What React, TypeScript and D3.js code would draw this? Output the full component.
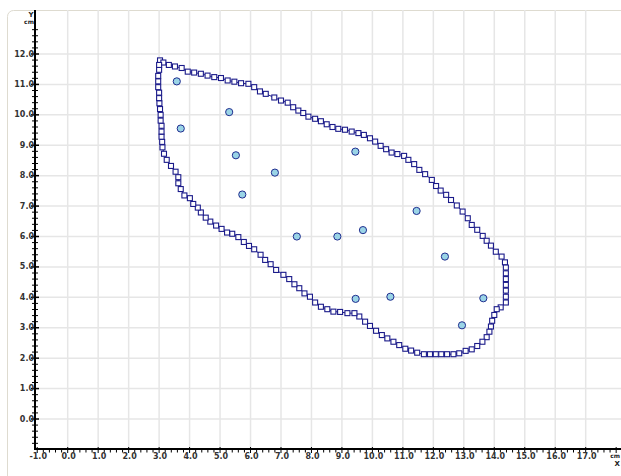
import { useEffect, useRef } from 'react';
import * as d3 from 'd3';

// Outline traced as square markers (cm), in drawing order
const outlineX = [
  3.03, 3.14, 3.32, 3.52, 3.74, 3.94, 4.15, 4.37, 4.59, 4.81, 5.03, 5.25, 5.47, 5.69, 5.93, 6.12, 6.31, 6.5, 6.78, 7.0,
  7.22, 7.4, 7.57, 7.73, 7.9, 8.12, 8.31, 8.5, 8.69, 8.88, 9.1, 9.32, 9.54, 9.72, 9.92, 10.09, 10.27, 10.45, 10.63, 10.82,
  11.04, 11.18, 11.37, 11.54, 11.73, 11.95, 12.09, 12.24, 12.42, 12.58, 12.77, 12.96, 13.13, 13.26, 13.44, 13.62, 13.75, 13.89, 14.05, 14.24,
  14.35, 14.38, 14.38, 14.38, 14.38, 14.38, 14.38, 14.38, 14.21, 14.08, 14.0, 13.93, 13.89, 13.84, 13.75, 13.61, 13.44, 13.26, 13.06, 12.85,
  12.66, 12.45, 12.26, 12.08, 11.89, 11.69, 11.47, 11.27, 11.08, 10.88, 10.69, 10.49, 10.31, 10.12, 9.92, 9.76, 9.57, 9.41, 9.18, 8.94,
  8.72, 8.52, 8.31, 8.12, 7.95, 7.77, 7.6, 7.44, 7.27, 7.08, 6.84, 6.66, 6.48, 6.33, 6.12, 5.95, 5.78, 5.6, 5.4, 5.23,
  5.05, 4.87, 4.68, 4.53, 4.37, 4.27, 4.12, 4.01, 3.83, 3.71, 3.63, 3.63, 3.54, 3.39, 3.25, 3.16, 3.11, 3.1, 3.08, 3.08,
  3.08, 3.05, 3.05, 3.03, 3.01, 3.0, 3.0, 2.97, 2.97, 2.97, 3.0, 3.0,
];
const outlineY = [
  11.79, 11.72, 11.64, 11.59, 11.54, 11.42, 11.39, 11.35, 11.29, 11.24, 11.21, 11.13, 11.09, 11.04, 11.02, 10.91, 10.77, 10.69, 10.57, 10.47,
  10.4, 10.25, 10.14, 10.06, 9.94, 9.87, 9.79, 9.69, 9.6, 9.54, 9.51, 9.45, 9.4, 9.34, 9.23, 9.12, 8.98, 8.87, 8.76, 8.71,
  8.65, 8.52, 8.38, 8.19, 8.05, 7.86, 7.66, 7.51, 7.37, 7.2, 7.02, 6.82, 6.6, 6.38, 6.22, 6.02, 5.86, 5.7, 5.5, 5.34,
  5.15, 4.98, 4.79, 4.6, 4.41, 4.22, 4.02, 3.83, 3.67, 3.61, 3.42, 3.23, 3.04, 2.87, 2.69, 2.54, 2.4, 2.29, 2.24, 2.16,
  2.13, 2.13, 2.13, 2.13, 2.13, 2.13, 2.18, 2.25, 2.31, 2.43, 2.54, 2.65, 2.76, 2.9, 3.06, 3.2, 3.37, 3.48, 3.48, 3.52,
  3.53, 3.61, 3.69, 3.83, 4.02, 4.13, 4.3, 4.43, 4.6, 4.74, 4.9, 5.09, 5.23, 5.4, 5.58, 5.69, 5.82, 5.98, 6.09, 6.13,
  6.25, 6.36, 6.49, 6.62, 6.79, 6.95, 7.07, 7.26, 7.35, 7.56, 7.75, 7.95, 8.13, 8.32, 8.52, 8.72, 8.93, 9.11, 9.28, 9.45,
  9.64, 9.81, 10.0, 10.19, 10.38, 10.55, 10.73, 10.91, 11.1, 11.28, 11.48, 11.64,
];

// Plotted points (cm)
const pointX = [3.58, 3.71, 5.3, 5.52, 5.73, 6.8, 7.52, 8.85, 9.44, 9.69, 11.45, 12.38, 9.45, 10.59, 13.64, 12.94];
const pointY = [11.1, 9.55, 10.09, 8.67, 7.38, 8.1, 6.0, 6.0, 8.79, 6.21, 6.84, 5.34, 3.95, 4.02, 3.97, 3.08];

const xTicks = [-1, 0, 1, 2, 3, 4, 5, 6, 7, 8, 9, 10, 11, 12, 13, 14, 15, 16, 17];
const yTicks = [0, 1, 2, 3, 4, 5, 6, 7, 8, 9, 10, 11, 12];

const WIDTH = 621;
const HEIGHT = 476;
const FONT = 'DejaVu Sans, Verdana, sans-serif';

export default function App() {
  const svgRef = useRef<SVGSVGElement>(null);

  useEffect(() => {
    if (!svgRef.current) return;
    const svg = d3.select(svgRef.current);
    svg.selectAll('*').remove();

    const x = d3.scaleLinear().domain([0, 17]).range([67.7, 585.7]);
    const y = d3.scaleLinear().domain([0, 12]).range([419, 54]);

    const axisX = 35;
    const axisY = 449;
    const top = 10;

    // frame
    svg.append('rect')
      .attr('x', 7.5).attr('y', 10.5).attr('width', WIDTH + 20).attr('height', HEIGHT + 20)
      .attr('rx', 6).attr('fill', '#fff').attr('stroke', '#dedbd0').attr('stroke-width', 1);

    // grid
    const grid = svg.append('g');
    xTicks.filter(t => t >= 0).forEach(t => {
      grid.append('line')
        .attr('x1', x(t)).attr('x2', x(t)).attr('y1', top).attr('y2', axisY)
        .attr('stroke', '#e6e6e6').attr('stroke-width', 1.5);
    });
    yTicks.forEach(t => {
      grid.append('line')
        .attr('x1', axisX).attr('x2', WIDTH).attr('y1', y(t)).attr('y2', y(t))
        .attr('stroke', '#e6e6e6').attr('stroke-width', 1.5);
    });

    // y axis
    svg.append('line')
      .attr('x1', axisX).attr('x2', axisX).attr('y1', top).attr('y2', axisY + 1)
      .attr('stroke', '#000').attr('stroke-width', 2);
    const yMinor = d3.range(-4, 65).map(i => i / 5);
    yMinor.forEach(v => {
      const major = Math.abs(v - Math.round(v)) < 1e-6;
      const len = major ? 4 : 3;
      svg.append('line')
        .attr('x1', axisX - len).attr('x2', axisX + len)
        .attr('y1', y(v)).attr('y2', y(v))
        .attr('stroke', '#000').attr('stroke-width', major ? 1.5 : 1);
    });
    yTicks.forEach(t => {
      svg.append('text')
        .attr('x', axisX - 1).attr('y', y(t))
        .attr('text-anchor', 'end').attr('dominant-baseline', 'middle')
        .attr('font-size', '8px').attr('font-family', FONT).attr('font-weight', 'bold')
        .attr('fill', '#333')
        .text(t.toFixed(1));
    });
    svg.append('text')
      .attr('x', 31).attr('y', 17)
      .attr('text-anchor', 'middle')
      .attr('font-size', '7px').attr('font-family', FONT).attr('font-weight', 'bold')
      .attr('fill', '#222')
      .text('Y');
    svg.append('text')
      .attr('x', 29).attr('y', 24)
      .attr('text-anchor', 'middle')
      .attr('font-size', '6px').attr('font-family', FONT).attr('font-weight', 'bold')
      .attr('fill', '#222')
      .text('cm');

    // x axis
    svg.append('line')
      .attr('x1', axisX - 1).attr('x2', WIDTH).attr('y1', axisY).attr('y2', axisY)
      .attr('stroke', '#000').attr('stroke-width', 2);
    const xMinor = d3.range(-5, 91).map(i => i / 5);
    xMinor.forEach(v => {
      const major = Math.abs(v - Math.round(v)) < 1e-6;
      svg.append('line')
        .attr('x1', x(v)).attr('x2', x(v))
        .attr('y1', axisY - (major ? 2 : 0)).attr('y2', axisY + (major ? 4 : 3.5))
        .attr('stroke', '#000').attr('stroke-width', 1);
    });
    xTicks.forEach(t => {
      svg.append('text')
        .attr('x', x(t) + 1).attr('y', axisY + 10)
        .attr('text-anchor', 'middle')
        .attr('font-size', '8px').attr('font-family', FONT).attr('font-weight', 'bold')
        .attr('fill', '#333')
        .text(t.toFixed(1));
    });
    svg.append('text')
      .attr('x', 620).attr('y', axisY + 9)
      .attr('text-anchor', 'end')
      .attr('font-size', '6px').attr('font-family', FONT).attr('font-weight', 'bold')
      .attr('fill', '#222')
      .text('cm');
    svg.append('text')
      .attr('x', 620).attr('y', axisY + 17)
      .attr('text-anchor', 'end')
      .attr('font-size', '7px').attr('font-family', FONT).attr('font-weight', 'bold')
      .attr('fill', '#222')
      .text('X');

    // outline
    const outline = outlineX.map((v, i) => [v, outlineY[i]] as [number, number]);
    const line = d3.line<[number, number]>().x(d => x(d[0])).y(d => y(d[1]));
    svg.append('path')
      .attr('d', line(outline.concat([outline[0]])))
      .attr('fill', 'none').attr('stroke', '#1b1b8a').attr('stroke-width', 1);
    svg.append('g').selectAll('rect')
      .data(outline)
      .join('rect')
      .attr('x', d => x(d[0]) - 2.5).attr('y', d => y(d[1]) - 2.5)
      .attr('width', 5).attr('height', 5)
      .attr('fill', '#fff').attr('stroke', '#1b1b8a').attr('stroke-width', 1.1);

    // points
    svg.append('g').selectAll('circle')
      .data(pointX.map((v, i) => [v, pointY[i]]))
      .join('circle')
      .attr('cx', d => x(d[0])).attr('cy', d => y(d[1]))
      .attr('r', 3.6)
      .attr('fill', '#9ad4e6').attr('stroke', '#1f2d8f').attr('stroke-width', 1);
  }, []);

  return (
    <svg
      ref={svgRef}
      width={WIDTH}
      height={HEIGHT}
      style={{ position: 'absolute', left: 0, top: 0, background: '#fff' }}
    />
  );
}
